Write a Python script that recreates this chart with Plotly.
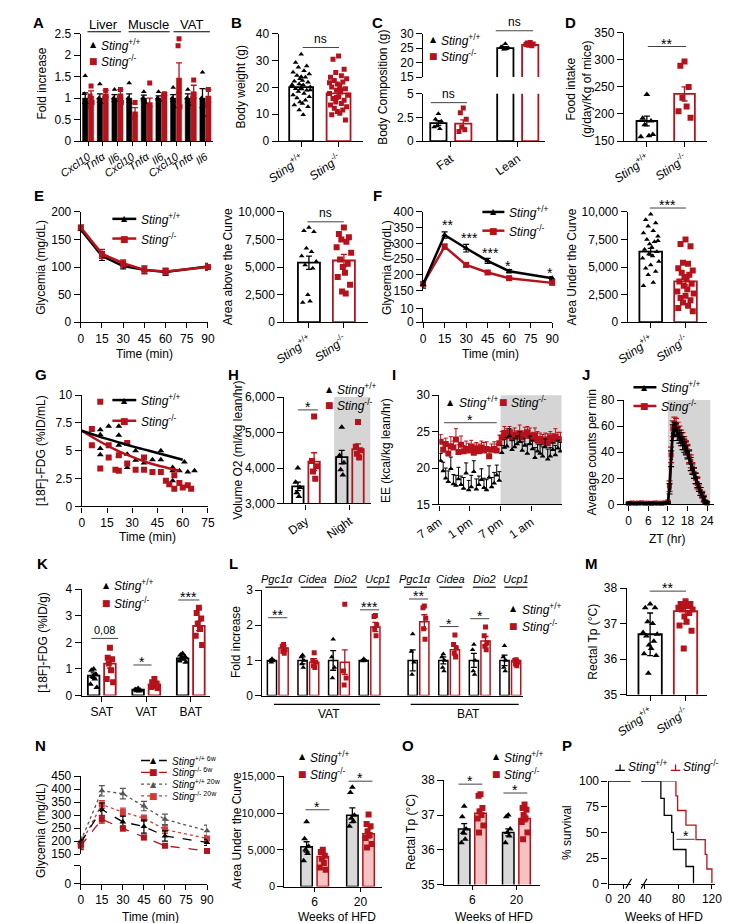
import plotly.graph_objects as go

# ======================= DATA =======================
WT = '<i>Sting</i><sup>+/+</sup>'
KO = '<i>Sting</i><sup>-/-</sup>'

# A
A_tissues = ['Liver', 'Muscle', 'VAT']
A_genes = ['Cxcl10', 'Tnfα', 'Il6', 'Cxcl10', 'Tnfα', 'Il6', 'Cxcl10', 'Tnfα', 'Il6']
A_wt_mean = [1.0, 1.0, 1.0, 1.0, 1.0, 1.0, 1.0, 1.0, 1.0]
A_wt_err = [0.12, 0.1, 0.08, 0.1, 0.07, 0.05, 0.08, 0.1, 0.22]
A_ko_mean = [1.05, 1.1, 1.1, 0.68, 0.9, 1.1, 1.47, 1.15, 1.05]
A_ko_err = [0.12, 0.08, 0.1, 0.1, 0.1, 0.03, 0.35, 0.15, 0.15]
A_wt_pts = [[1.52, 1.1, 0.9], [1.33, 1.0, 0.9], [1.2, 1.0, 0.95], [1.35, 1.0, 0.9], [1.15, 1.0, 0.9],
            [1.15, 1.0, 0.95], [1.25, 1.0, 0.8], [1.2, 1.0, 0.85], [1.6, 1.0, 0.6]]
A_ko_pts = [[1.28, 1.05, 0.9, 0.8], [1.18, 1.0], [1.2, 1.0, 0.9], [0.9, 0.55], [1.35, 0.8], [1.1, 1.05],
            [2.38, 2.22, 0.8], [1.42, 1.0], [1.2, 0.85]]

# B
B_mean = [20.1, 17.8]
B_err = [0.9, 1.0]
B_wt_pts = [32.3, 29.3, 28.0, 27.5, 26.2, 25.6, 25.0, 24.4, 23.8, 23.2, 22.6, 22.3, 21.9, 21.3, 20.9, 20.5,
            20.1, 19.8, 19.5, 18.9, 18.5, 17.7, 17.2, 16.5, 16.0, 15.2, 14.6, 14.0, 13.4, 12.8, 11.6, 9.8,
            21.0, 19.0, 24.0]
B_ko_pts = [31.7, 30.5, 26.8, 25.5, 24.3, 23.8, 23.2, 22.6, 22.0, 21.3, 20.7, 20.1, 19.5, 18.9, 18.3, 17.7,
            17.1, 16.5, 15.9, 15.2, 14.6, 14.0, 13.4, 12.8, 12.2, 11.6, 11.0, 10.4, 9.8, 7.8, 16.2, 19.1, 21.7]

# C
C_groups = ['Fat', 'Lean']
C_wt_mean = [1.9, 25.0]
C_wt_err = [0.25, 0.5]
C_ko_mean = [1.85, 26.1]
C_ko_err = [0.4, 0.35]
C_wt_pts = [[2.9, 2.3, 2.1, 1.6, 1.3, 1.5], [26.5, 25.5, 25.1, 24.6, 24.9, 25.4]]
C_ko_pts = [[3.5, 3.0, 2.3, 1.5, 1.2, 1.0], [27.0, 26.8, 26.4, 26.0, 25.8, 26.3]]

# D
D_mean = [187, 237]
D_err = [9, 13]
D_wt_pts = [236, 192, 187, 180, 160, 158, 162]
D_ko_pts = [297, 289, 250, 230, 214, 205, 193]

# E
E_time = [0, 15, 30, 45, 60, 90]
E_wt = [168, 120, 102, 95, 91, 101]
E_wt_err = [4, 8, 5, 7, 6, 6]
E_ko = [172, 124, 107, 95, 92, 100]
E_ko_err = [4, 8, 6, 7, 6, 6]
E_aac_mean = [5400, 5600]
E_aac_err = [600, 550]
E_aac_wt_pts = [8600, 8300, 8200, 6700, 6400, 6000, 5500, 5200, 4900, 2500, 1900, 1800]
E_aac_ko_pts = [8600, 8000, 7700, 7500, 7300, 6800, 6300, 5700, 5300, 5000, 4500, 4100, 3400, 2800, 2600]

# F
F_time = [0, 15, 30, 45, 60, 90]
F_wt = [170, 327, 285, 245, 212, 190]
F_wt_err = [12, 10, 12, 8, 5, 5]
F_ko = [172, 290, 232, 208, 190, 175]
F_ko_err = [10, 8, 6, 5, 5, 5]
F_stars = ['**', '***', '***', '*', '*']
F_auc_mean = [6400, 3700]
F_auc_err = [300, 320]
F_auc_wt_pts = [9800, 9300, 9000, 8700, 8300, 8100, 7800, 7500, 7300, 7100, 6800, 6600, 6400, 6200, 6000,
                5800, 5500, 5200, 4900, 4600, 4300, 3600, 3300, 7400]
F_auc_ko_pts = [7500, 7100, 6900, 5400, 5300, 4900, 4700, 4500, 4300, 4100, 3900, 3700, 3500, 3300, 3000,
                2800, 2600, 2400, 2200, 2000, 1800, 1500, 1300, 1000]

# G
G_wt_t = [11, 11, 11, 11, 16, 22, 22, 22, 22, 27, 27, 32, 32, 37, 42, 47, 47, 54, 54, 54, 58, 61, 63, 67]
G_wt_v = [6.9, 6.45, 5.2, 4.65, 7.2, 7.2, 6.4, 5.5, 4.6, 3.5, 4.7, 5.0, 4.15, 3.9, 4.2, 5.0, 4.2, 3.5, 3.2,
          2.3, 3.2, 4.0, 3.1, 3.2]
G_ko_t = [6, 6, 11, 11, 16, 16, 20, 22, 22, 27, 27, 32, 37, 37, 42, 47, 50, 52, 55, 55, 58, 60, 63, 65]
G_ko_v = [6.95, 5.5, 9.4, 3.4, 5.5, 4.4, 3.3, 4.6, 3.2, 5.7, 3.85, 3.3, 4.4, 3.3, 3.1, 3.1, 2.3, 2.0, 2.8,
          1.6, 2.1, 1.7, 1.9, 1.6]
G_fit_wt_t = [0, 10, 20, 30, 40, 50, 60]
G_fit_wt = [6.8, 6.3, 5.85, 5.4, 5.0, 4.6, 4.2]
G_fit_ko_t = [0, 10, 20, 30, 40, 50, 58]
G_fit_ko = [6.8, 5.9, 5.1, 4.45, 3.9, 3.5, 3.2]

# H
H_periods = ['Day', 'Night']
H_wt_mean = [3480, 4310]
H_wt_err = [120, 190]
H_ko_mean = [4180, 4530]
H_ko_err = [250, 150]
H_wt_pts = [[4000, 3600, 3450, 3300, 3200], [5150, 4350, 4150, 3950, 3800]]
H_ko_pts = [[5450, 4200, 4050, 3900, 3700], [5300, 4600, 4500, 4400, 4300]]

# I
I_hours = [0.25, 0.75, 1.25, 1.75, 2.25, 2.75, 3.25, 3.75, 4.25, 4.75, 5.25, 5.75, 6.25, 6.75, 7.25, 7.75,
           8.25, 8.75, 9.25, 9.75, 10.25, 10.75, 11.25, 11.75, 12.25, 12.75, 13.25, 13.75, 14.25, 14.75,
           15.25, 15.75, 16.25, 16.75, 17.25, 17.75, 18.25, 18.75, 19.25, 19.75, 20.25, 20.75, 21.25, 21.75,
           22.25, 22.75, 23.25, 23.75]
I_wt = [21.0, 19.6, 18.6, 18.1, 19.9, 17.8, 17.6, 18.5, 17.7, 17.2, 19.3, 17.0, 17.4, 19.5, 17.1, 17.7, 18.4,
        17.3, 17.0, 18.7, 17.4, 17.9, 19.0, 18.3,
        22.1, 22.8, 23.0, 24.4, 22.5, 22.9, 23.3, 23.6, 22.4, 23.1, 22.0, 23.3, 22.6, 21.4, 22.3, 22.0, 21.6,
        22.9, 21.2, 21.6, 22.5, 21.8, 22.7, 22.3]
I_wt_err = [1.0, 1.2, 1.4, 1.5, 1.6, 1.3, 1.4, 1.6, 1.2, 1.5, 1.4, 1.3, 1.6, 1.5, 1.4, 1.2, 1.5, 1.3, 1.4, 1.6,
            1.3, 1.5, 1.4, 1.2,
            1.0, 1.1, 1.2, 1.0, 1.3, 1.2, 1.1, 1.4, 1.2, 1.0, 1.3, 1.1, 1.2, 1.4, 1.0, 1.2, 1.3, 1.1, 1.4, 1.2,
            1.0, 1.3, 1.1, 1.2]
I_ko = [23.6, 22.5, 23.3, 22.0, 23.0, 22.8, 23.9, 22.2, 23.2, 22.3, 22.6, 22.4, 22.9, 22.1, 22.7, 22.3, 22.8,
        22.4, 22.6, 21.6, 22.5, 22.6, 22.4, 23.4,
        24.2, 24.8, 24.4, 24.9, 24.1, 24.6, 24.3, 24.7, 24.2, 24.6, 24.9, 24.4, 24.0, 24.5, 23.8, 24.0, 23.5,
        23.9, 23.4, 24.2, 23.7, 24.3, 24.0, 23.9]
I_ko_err = [1.0, 1.1, 0.8, 1.2, 1.3, 0.9, 1.5, 1.0, 1.2, 0.8, 1.1, 1.0, 0.9, 1.2, 0.8, 1.0, 0.9, 1.1, 1.0, 1.2,
            0.8, 1.0, 0.9, 1.1,
            0.8, 0.9, 1.0, 0.8, 1.1, 0.9, 0.8, 1.2, 0.9, 1.0, 0.8, 1.1, 0.9, 1.0, 1.2, 0.8, 1.1, 0.9, 1.3, 0.8,
            1.0, 1.1, 0.9, 1.0]

# J
J_zt = [0, 1, 2, 3, 4, 5, 6, 7, 8, 9, 10, 11, 12, 12.5, 13, 13.5, 14, 14.5, 15, 15.5, 16, 16.5, 17, 17.5, 18,
        18.5, 19, 19.5, 20, 20.5, 21, 21.5, 22, 22.5, 23, 23.5, 24]
J_wt = [1.2, 0.9, 1.0, 1.1, 0.8, 1.0, 0.9, 1.2, 1.0, 0.8, 1.1, 1.0, 1.5,
        12, 35, 55, 58, 57, 54, 52, 50, 47, 45, 43, 40, 36, 31, 27, 24, 20, 17, 13, 10, 7, 4, 2, 1]
J_ko = [0.8, 1.1, 0.9, 1.0, 1.2, 0.9, 1.0, 0.8, 1.1, 1.0, 0.9, 1.2, 2.0,
        14, 38, 58, 62, 61, 58, 55, 52, 50, 47, 44, 41, 37, 33, 28, 24, 20, 16, 13, 10, 8, 5, 2, 1]
J_err = [0.4, 0.4, 0.4, 0.4, 0.4, 0.4, 0.4, 0.4, 0.4, 0.4, 0.4, 0.4, 0.6,
         4, 6, 6, 5, 5, 5, 5, 5, 5, 5, 5, 5, 5, 5, 4, 4, 4, 4, 3, 3, 2, 2, 1, 1]

# K
K_groups = ['SAT', 'VAT', 'BAT']
K_wt_mean = [0.75, 0.22, 1.4]
K_wt_err = [0.1, 0.02, 0.05]
K_ko_mean = [1.2, 0.42, 2.62]
K_ko_err = [0.17, 0.04, 0.18]
K_wt_pts = [[1.0, 0.95, 0.8, 0.72, 0.62, 0.42, 0.3], [0.26, 0.23, 0.2, 0.18, 0.17, 0.22],
            [1.58, 1.52, 1.47, 1.42, 1.36, 1.3, 1.25]]
K_ko_pts = [[1.8, 1.42, 1.36, 1.2, 0.95, 0.62, 0.5], [0.62, 0.5, 0.45, 0.4, 0.36, 0.32, 0.28],
            [3.3, 3.1, 2.9, 2.7, 2.5, 2.25, 1.9]]

# L
L_tissues = ['VAT', 'BAT']
L_genes = ['Pgc1α', 'Cidea', 'Dio2', 'Ucp1', 'Pgc1α', 'Cidea', 'Dio2', 'Ucp1']
L_wt_mean = [1.0, 1.0, 1.0, 1.0, 1.0, 1.0, 1.0, 1.0]
L_wt_err = [0.03, 0.1, 0.28, 0.02, 0.3, 0.1, 0.2, 0.15]
L_ko_mean = [1.35, 0.95, 0.95, 1.95, 2.1, 1.3, 1.55, 1.0]
L_ko_err = [0.07, 0.1, 0.35, 0.13, 0.2, 0.12, 0.13, 0.03]
L_wt_pts = [[1.05, 1.0, 0.98, 0.95], [1.15, 1.1, 1.0, 0.9, 0.8], [1.6, 1.1, 0.8, 0.5], [1.05, 1.0, 1.0, 0.98],
            [1.75, 1.25, 0.95, 0.6], [1.18, 1.1, 1.0, 0.8, 0.7], [1.45, 1.3, 1.0, 0.7, 0.6],
            [1.42, 1.1, 1.0, 0.8, 0.7]]
L_ko_pts = [[1.45, 1.4, 1.3, 1.25, 1.2], [1.22, 1.0, 0.95, 0.85, 0.8], [2.6, 0.7, 0.5, 0.3],
            [2.28, 2.25, 2.0, 1.9, 1.7], [2.55, 2.5, 2.2, 1.9, 1.6], [1.72, 1.45, 1.35, 1.2, 1.1],
            [1.95, 1.7, 1.5, 1.4, 1.3], [1.02, 1.0, 0.95, 0.9, 0.85]]
L_stars = ['**', '', '', '***', '**', '*', '*', '']

# M
M_mean = [36.7, 37.35]
M_err = [0.6, 0.35]
M_wt_pts = [37.55, 37.45, 37.45, 37.05, 37.0, 36.75, 36.7, 36.65, 36.5, 36.4, 36.3, 36.15, 36.1, 35.6]
M_ko_pts = [37.6, 37.55, 37.55, 37.5, 37.5, 37.45, 37.4, 37.4, 37.3, 37.2, 37.05, 36.95, 36.8, 36.3]

# N
N_time = [0, 15, 30, 45, 60, 90]
N_wt6 = [195, 322, 274, 256, 220, 195]
N_wt6_err = [12, 25, 22, 25, 20, 12]
N_ko6 = [182, 284, 249, 214, 182, 162]
N_ko6_err = [15, 15, 10, 8, 6, 6]
N_wt20 = [200, 394, 383, 335, 284, 240]
N_wt20_err = [15, 20, 20, 18, 20, 22]
N_ko20 = [190, 341, 312, 288, 245, 210]
N_ko20_err = [12, 15, 15, 12, 15, 12]
N_weeks = ['6', '20']
N_auc_wt_mean = [5400, 9700]
N_auc_wt_err = [700, 1000]
N_auc_ko_mean = [4100, 7200]
N_auc_ko_err = [500, 600]
N_auc_wt_pts = [[8800, 6500, 5500, 5000, 4500, 3500], [13500, 12800, 9700, 9300, 8900, 8200]]
N_auc_ko_pts = [[5000, 4700, 4200, 3800, 3200, 2600, 2300], [9800, 8500, 8200, 7500, 7000, 6600, 5800, 5300]]

# O
O_wt_mean = [36.6, 36.5]
O_wt_err = [0.15, 0.1]
O_ko_mean = [37.05, 36.9]
O_ko_err = [0.12, 0.1]
O_wt_pts = [[37.25, 36.95, 36.6, 36.5, 36.3, 36.2], [37.0, 36.95, 36.6, 36.5, 36.4, 36.2]]
O_ko_pts = [[37.6, 37.55, 37.2, 37.1, 37.0, 36.9, 36.7, 36.5], [37.3, 37.2, 37.15, 37.0, 36.9, 36.8, 36.5, 36.3]]

# P
P_wt_weeks = [0, 59, 63, 72, 74, 89, 98]
P_wt_surv = [100, 83.3, 66.7, 50, 33.3, 16.7, 0]
P_ko_weeks = [0, 77, 79, 89, 101, 112, 114, 120]
P_ko_surv = [100, 85.7, 71.4, 57.1, 42.9, 28.6, 14.3, 0]

# ======================= STYLE / HELPERS =======================
W, H = 730, 923
RED = '#b5121b'
SHADE = '#d5d5d5'
GREYFILL = '#d9d9d9'
PINKFILL = '#f6c3c3'
SIGC = '#444444'
FONT = 'Arial, Liberation Sans, sans-serif'
FS = 12

fig = go.Figure()
ann, shp, AX = [], [], {}
cnt = [0]


def ids(n):
    if n == 1:
        return 'x', 'y', 'xaxis', 'yaxis'
    return f'x{n}', f'y{n}', f'xaxis{n}', f'yaxis{n}'


def base_axis(**kw):
    d = dict(showline=True, linecolor='black', linewidth=1.3, ticks='outside', ticklen=6, tickwidth=1.3,
             tickcolor='black', showgrid=False, zeroline=False,
             tickfont=dict(size=FS, color='black', family=FONT), fixedrange=True)
    d.update(kw)
    return d


def placeholder(xn, yn):
    # empty trace so that every axis pair is a real subplot
    fig.add_trace(go.Scatter(x=[None], y=[None], mode='markers', xaxis=xn, yaxis=yn,
                             showlegend=False, hoverinfo='skip'))


def add_axes(xpx, ypx, xr, yr, xkw=None, ykw=None):
    cnt[0] += 1
    xn, yn, xk, yk = ids(cnt[0])
    xd = dict(ticklen=5)
    xd.update(xkw or {})
    AX[xk] = base_axis(domain=[xpx[0] / W, xpx[1] / W], range=xr, anchor=yn, **xd)
    AX[yk] = base_axis(domain=[1 - ypx[1] / H, 1 - ypx[0] / H], range=yr, anchor=xn, **(ykw or {}))
    placeholder(xn, yn)
    return xn, yn


def add_y(ypx, yr, xn, ykw=None):
    cnt[0] += 1
    _, yn, _, yk = ids(cnt[0])
    AX[yk] = base_axis(domain=[1 - ypx[1] / H, 1 - ypx[0] / H], range=yr, anchor=xn, **(ykw or {}))
    placeholder(xn, yn)
    return yn


def add_x(xpx, xr, yn, xkw=None):
    cnt[0] += 1
    xn, _, xk, _ = ids(cnt[0])
    xd = dict(ticklen=5)
    xd.update(xkw or {})
    AX[xk] = base_axis(domain=[xpx[0] / W, xpx[1] / W], range=xr, anchor=yn, **xd)
    placeholder(xn, yn)
    return xn


def T(x, y, s, size=FS, xa='center', ya='middle', angle=0, color='black', family=FONT):
    ann.append(dict(x=x / W, y=1 - y / H, xref='paper', yref='paper', text=s, showarrow=False,
                    xanchor=xa, yanchor=ya, textangle=angle,
                    font=dict(size=size, color=color, family=family)))


def L(x0, y0, x1, y1, color='black', width=1.0, dash='solid'):
    shp.append(dict(type='line', xref='paper', yref='paper', x0=x0 / W, y0=1 - y0 / H, x1=x1 / W,
                    y1=1 - y1 / H, line=dict(color=color, width=width, dash=dash)))


def shade(xa, ya, x0, x1):
    shp.append(dict(type='rect', xref=xa, yref=f'{ya} domain', x0=x0, x1=x1, y0=0, y1=1,
                    fillcolor=SHADE, line=dict(width=0), layer='below'))


def sig(x0, x1, y, label, size=None):
    L(x0, y, x1, y, color=SIGC, width=1)
    if label.startswith('*'):
        T((x0 + x1) / 2, y - 3, label, size=size or 14)
    else:
        T((x0 + x1) / 2, y - 9, label, size=size or 12)


def glyph(x, y, kind, color):
    if kind == 'tri':
        T(x, y, '▲', size=8, color=color, family='DejaVu Sans')
    else:
        T(x, y, '■', size=9, color=color, family='DejaVu Sans')


def leg_mark(x, y, kind, color, label, size=FS):
    glyph(x, y, kind, color)
    T(x + 6, y, label, size=size, xa='left')


def leg_line(x0, x1, y, color, kind, label, dash='solid', width=2.5, size=FS):
    L(x0, y, x1, y, color=color, width=width, dash=dash)
    glyph((x0 + x1) / 2, y, kind, color)
    T(x1 + 3, y, label, size=size, xa='left')


def ytitle(x, y, s, size=FS):
    T(x, y, s, size=size, angle=-90)


def plabel(x, y, s):
    T(x, y, f'<b>{s}</b>', size=15)


def bars(xa, ya, xs, means, errs, edge, fill, width, lw=1.8):
    fig.add_trace(go.Bar(x=xs, y=means, width=width, xaxis=xa, yaxis=ya,
                         marker=dict(color=fill, line=dict(color=edge, width=lw)),
                         error_y=dict(type='data', array=errs, color=edge, thickness=1.3, width=3),
                         showlegend=False, hoverinfo='skip'))


JIT = [0.0, -0.55, 0.55, -0.28, 0.28, -0.8, 0.8, -0.42, 0.42, -0.12, 0.12, -0.68, 0.68, -0.2, 0.2, -0.9, 0.9]


def dots(xa, ya, xc, vals, half, kind, color, size=5):
    xs = [xc + half * JIT[i % len(JIT)] for i in range(len(vals))]
    fig.add_trace(go.Scatter(x=xs, y=vals, mode='markers', xaxis=xa, yaxis=ya,
                             marker=dict(symbol='triangle-up' if kind == 'tri' else 'square', size=size,
                                         color=color, line=dict(width=0)),
                             showlegend=False, hoverinfo='skip'))


def curve(xa, ya, xs, ys, errs, color, kind, width=2.5, dash='solid', msize=6, shape='linear', markers=True):
    mode = 'lines+markers' if markers else 'lines'
    kw = {}
    if errs is not None:
        kw['error_y'] = dict(type='data', array=errs, color=color, thickness=1.2, width=3)
    fig.add_trace(go.Scatter(x=xs, y=ys, mode=mode, xaxis=xa, yaxis=ya, cliponaxis=False,
                             line=dict(color=color, width=width, dash=dash, shape=shape),
                             marker=dict(symbol='triangle-up' if kind == 'tri' else 'square', size=msize,
                                         color=color),
                             showlegend=False, hoverinfo='skip', **kw))


STING_TICKS = dict(tickvals=[0, 1], ticktext=[WT, KO], tickangle=-35)
TIME_TICKS = dict(tickvals=[0, 15, 30, 45, 60, 75, 90])

# ======================= PANEL A =======================
xa, ya = add_axes((50, 188), (19, 128), [-0.5, 8.5], [0, 2.5],
                  xkw=dict(tickvals=list(range(9)), ticktext=[f'<i>{g}</i>' for g in A_genes], tickangle=-35,
                           ticklen=4, tickfont=dict(size=11, family=FONT, color='black')),
                  ykw=dict(tickvals=[0, 0.5, 1, 1.5, 2, 2.5], ticktext=['0', '0.5', '1', '1.5', '2', '2.5']))
a_c = list(range(9))
bars(xa, ya, [c - 0.2 for c in a_c], A_wt_mean, A_wt_err, 'black', 'black', 0.36, lw=0.5)
bars(xa, ya, [c + 0.2 for c in a_c], A_ko_mean, A_ko_err, RED, RED, 0.36, lw=0.5)
for i, c in enumerate(a_c):
    dots(xa, ya, c - 0.2, A_wt_pts[i], 0.12, 'tri', 'black', 5)
    dots(xa, ya, c + 0.2, A_ko_pts[i], 0.12, 'sq', RED, 5)
for k, (cx, l0, l1) in enumerate([(74, 57, 92), (121, 100, 143), (166, 147, 185)]):
    T(cx, 10, A_tissues[k], size=13)
    L(l0, 17, l1, 17, width=1.2)
leg_mark(63, 30, 'tri', 'black', WT)
leg_mark(63, 47, 'sq', RED, KO)
ytitle(9, 70, 'Fold increase')
plabel(6, 8, 'A')

# ======================= PANEL B =======================
xb, yb = add_axes((257, 345), (19, 128), [-0.60, 1.65], [0, 40], xkw=STING_TICKS,
                  ykw=dict(tickvals=[0, 10, 20, 30, 40]))
bars(xb, yb, [0], B_mean[:1], B_err[:1], 'black', 'white', 0.64)
bars(xb, yb, [1], B_mean[1:], B_err[1:], RED, 'white', 0.64)
dots(xb, yb, 0, B_wt_pts, 0.27, 'tri', 'black', 5)
dots(xb, yb, 1, B_ko_pts, 0.27, 'sq', RED, 5)
sig(282, 320, 33, 'ns')
ytitle(217, 73, 'Body weight (g)')
plabel(213, 8, 'B')

# ======================= PANEL C =======================
xc, yc = add_axes((408, 535), (80, 128), [-0.414, 1.4], [0, 5],
                  xkw=dict(tickvals=[0, 1], ticktext=C_groups, tickangle=-35),
                  ykw=dict(tickvals=[0, 2.5, 5], ticktext=['0', '2.5', '5']))
yc2 = add_y((19, 63), [15, 30], xc, ykw=dict(tickvals=[15, 20, 25, 30]))
for yy in (yc, yc2):
    bars(xc, yy, [-0.186, 0.814], C_wt_mean, C_wt_err, 'black', 'white', 0.243)
    bars(xc, yy, [0.186, 1.186], C_ko_mean, C_ko_err, RED, 'white', 0.243)
    for g in range(2):
        dots(xc, yy, g - 0.186, C_wt_pts[g], 0.08, 'tri', 'black', 5)
        dots(xc, yy, g + 0.186, C_ko_pts[g], 0.08, 'sq', RED, 5)
leg_mark(419, 25, 'tri', 'black', WT)
leg_mark(419, 42, 'sq', RED, KO)
sig(416, 454, 89, 'ns')
sig(484, 523, 16, 'ns')
ytitle(366, 73, 'Body Composition (g)')
plabel(360, 8, 'C')

# ======================= PANEL D =======================
xd, yd = add_axes((618, 705), (18, 128), [-0.61, 1.6], [150, 350], xkw=STING_TICKS,
                  ykw=dict(tickvals=[150, 200, 250, 300, 350]))
bars(xd, yd, [0], D_mean[:1], D_err[:1], 'black', 'white', 0.55)
bars(xd, yd, [1], D_mean[1:], D_err[1:], RED, 'white', 0.55)
dots(xd, yd, 0, D_wt_pts, 0.2, 'tri', 'black', 6)
dots(xd, yd, 1, D_ko_pts, 0.2, 'sq', RED, 6)
sig(643, 683, 32, '**')
ytitle(571, 75, 'Food intake<br>(g/day/Kg of mice)')
plabel(562, 8, 'D')

# ======================= PANEL E =======================
xe, ye = add_axes((50, 183), (200, 312), [0, 90], [0, 200], xkw=TIME_TICKS,
                  ykw=dict(tickvals=[0, 50, 100, 150, 200]))
curve(xe, ye, E_time, E_wt, E_wt_err, 'black', 'tri')
curve(xe, ye, E_time, E_ko, E_ko_err, RED, 'sq')
leg_line(83, 108, 207, 'black', 'tri', WT)
leg_line(83, 108, 227, RED, 'sq', KO)
ytitle(9, 256, 'Glycemia (mg/dL)')
T(117, 344, 'Time (min)')
plabel(6, 183, 'E')

xe2, ye2 = add_axes((263, 350), (200, 312), [-0.70, 1.68], [0, 10000], xkw=STING_TICKS,
                    ykw=dict(tickvals=[0, 2500, 5000, 7500, 10000],
                             ticktext=['0', '2,500', '5,000', '7,500', '10,000']))
bars(xe2, ye2, [0], E_aac_mean[:1], E_aac_err[:1], 'black', 'white', 0.63)
bars(xe2, ye2, [1], E_aac_mean[1:], E_aac_err[1:], RED, 'white', 0.63)
dots(xe2, ye2, 0, E_aac_wt_pts, 0.26, 'tri', 'black', 5)
dots(xe2, ye2, 1, E_aac_ko_pts, 0.26, 'sq', RED, 6)
sig(287, 325, 210, 'ns')
ytitle(204, 256, 'Area above the Curve')

# ======================= PANEL F =======================
xf, yf = add_axes((408, 543), (298, 312), [0, 90], [0, 10], xkw=TIME_TICKS, ykw=dict(tickvals=[0, 10]))
yf2 = add_y((200, 280), [150, 400], xf, ykw=dict(tickvals=[150, 200, 250, 300, 350, 400]))
curve(xf, yf2, F_time, F_ko, F_ko_err, RED, 'sq')
curve(xf, yf2, F_time, F_wt, F_wt_err, 'black', 'tri')
for (sx, sy), s in zip([(433, 213), (456, 226), (478, 242), (497, 255), (541, 262)], F_stars):
    T(sx, sy, s, size=14)
leg_line(470, 493, 200, 'black', 'tri', WT)
leg_line(470, 493, 219, RED, 'sq', KO)
ytitle(370, 256, 'Glycemia (mg/dL)')
T(478, 344, 'Time (min)')
plabel(360, 183, 'F')

xf3, yf3 = add_axes((622, 705), (200, 312), [-0.66, 1.62], [0, 10000], xkw=STING_TICKS,
                    ykw=dict(tickvals=[0, 2500, 5000, 7500, 10000],
                             ticktext=['0', '2,500', '5,000', '7,500', '10,000']))
bars(xf3, yf3, [0], F_auc_mean[:1], F_auc_err[:1], 'black', 'white', 0.65)
bars(xf3, yf3, [1], F_auc_mean[1:], F_auc_err[1:], RED, 'white', 0.65)
dots(xf3, yf3, 0, F_auc_wt_pts, 0.26, 'tri', 'black', 5)
dots(xf3, yf3, 1, F_auc_ko_pts, 0.26, 'sq', RED, 6)
sig(645, 683, 196, '***')
ytitle(564, 256, 'Area Under the Curve')

# ======================= PANEL G =======================
xg, yg = add_axes((51, 183), (386, 499), [0, 75], [0, 10], xkw=dict(tickvals=[0, 15, 30, 45, 60, 75]),
                  ykw=dict(tickvals=[0, 2.5, 5, 7.5, 10], ticktext=['0', '2.5', '5', '7.5', '10']))
fig.add_trace(go.Scatter(x=G_wt_t, y=G_wt_v, mode='markers', xaxis=xg, yaxis=yg, showlegend=False,
                         marker=dict(symbol='triangle-up', size=6, color='black')))
fig.add_trace(go.Scatter(x=G_ko_t, y=G_ko_v, mode='markers', xaxis=xg, yaxis=yg, showlegend=False,
                         marker=dict(symbol='square', size=6, color=RED)))
curve(xg, yg, G_fit_ko_t, G_fit_ko, None, RED, 'sq', shape='spline', markers=False)
curve(xg, yg, G_fit_wt_t, G_fit_wt, None, 'black', 'tri', shape='spline', markers=False)
leg_line(83, 108, 391, 'black', 'tri', WT)
leg_line(83, 108, 412, RED, 'sq', KO)
ytitle(9, 442, '[18F]-FDG (%ID/mL)')
T(120, 530, 'Time (min)')
plabel(8, 365, 'G')

# ======================= PANEL H =======================
xh, yh = add_axes((263, 353), (388, 496), [-0.49, 1.47], [3000, 6000],
                  xkw=dict(tickvals=[0, 1], ticktext=H_periods, tickangle=-35),
                  ykw=dict(tickvals=[3000, 4000, 5000, 6000], ticktext=['3,000', '4,000', '5,000', '6,000']))
shade(xh, yh, 0.64, 1.47)
bars(xh, yh, [-0.185, 0.815], H_wt_mean, H_wt_err, 'black', 'rgba(0,0,0,0)', 0.26)
bars(xh, yh, [0.185, 1.185], H_ko_mean, H_ko_err, RED, 'rgba(0,0,0,0)', 0.26)
for g in range(2):
    dots(xh, yh, g - 0.185, H_wt_pts[g], 0.09, 'tri', 'black', 6)
    dots(xh, yh, g + 0.185, H_ko_pts[g], 0.09, 'sq', RED, 6)
sig(277, 298, 401, '*')
leg_mark(310, 380, 'tri', 'black', WT)
leg_mark(310, 396, 'sq', RED, KO)
ytitle(215, 442, 'Volume O2 (ml/kg lean/hr)')
plabel(210, 365, 'H')

# ======================= PANEL I =======================
xi, yi = add_axes((425, 553), (386, 497), [0, 24], [15, 30],
                  xkw=dict(tickvals=[0, 6, 12, 18], ticktext=['7 am', '1 pm', '7 pm', '1 am'], tickangle=-35),
                  ykw=dict(tickvals=[15, 20, 25, 30]))
shade(xi, yi, 12, 24)
zeros = [0] * len(I_hours)
fig.add_trace(go.Scatter(x=I_hours, y=I_ko, mode='markers', xaxis=xi, yaxis=yi, showlegend=False,
                         marker=dict(symbol='square', size=6, color=RED),
                         error_y=dict(type='data', symmetric=False, array=I_ko_err, arrayminus=zeros,
                                      color=RED, thickness=1, width=2)))
fig.add_trace(go.Scatter(x=I_hours, y=I_wt, mode='markers', xaxis=xi, yaxis=yi, showlegend=False,
                         marker=dict(symbol='triangle-up', size=5, color='black'),
                         error_y=dict(type='data', symmetric=False, array=I_wt_err, arrayminus=zeros,
                                      color='black', thickness=1, width=2)))
leg_mark(437, 393, 'tri', 'black', WT)
leg_mark(492, 393, 'sq', RED, KO)
sig(430, 485, 414, '*')
ytitle(370, 442, 'EE (kcal/kg lean/hr)')
plabel(378, 365, 'I')

# ======================= PANEL J =======================
xj, yj = add_axes((618, 712), (391, 497), [-1.46, 26.05], [0, 80], xkw=dict(tickvals=[0, 6, 12, 18, 24]),
                  ykw=dict(tickvals=[0, 20, 40, 60, 80]))
shade(xj, yj, 12, 25)
curve(xj, yj, J_zt, J_ko, J_err, RED, 'sq', width=2.5, msize=5)
curve(xj, yj, J_zt, J_wt, J_err, 'black', 'tri', width=2.5, msize=4)
leg_line(628, 652, 378, 'black', 'tri', WT)
leg_line(628, 652, 397, RED, 'sq', KO)
ytitle(585, 444, 'Average counts per min')
T(663, 532, 'ZT (hr)')
plabel(578, 365, 'J')

# ======================= PANEL K =======================
xk, yk = add_axes((51, 185), (583, 691), [-0.45, 2.43], [0, 4],
                  xkw=dict(tickvals=[0, 1, 2], ticktext=K_groups), ykw=dict(tickvals=[0, 1, 2, 3, 4]))
bars(xk, yk, [g - 0.183 for g in range(3)], K_wt_mean, K_wt_err, 'black', 'white', 0.26)
bars(xk, yk, [g + 0.183 for g in range(3)], K_ko_mean, K_ko_err, RED, 'white', 0.26)
for g in range(3):
    dots(xk, yk, g - 0.183, K_wt_pts[g], 0.09, 'tri', 'black', 6)
    dots(xk, yk, g + 0.183, K_ko_pts[g], 0.09, 'sq', RED, 6)
sig(61, 89, 633, '0,08', size=11)
sig(105, 124, 660, '*')
sig(152, 174, 594, '***')
leg_mark(77, 579, 'tri', 'black', WT)
leg_mark(77, 597, 'sq', RED, KO)
ytitle(11, 637, '[18F]-FDG (%ID/g)')
plabel(10, 557, 'K')

# ======================= PANEL L =======================
xl, yl = add_axes((240, 512), (584, 691), [-0.5, 8.0], [0, 3],
                  xkw=dict(ticks='', showticklabels=False), ykw=dict(tickvals=[0, 1, 2, 3]))
l_pos = [0, 1, 2, 3, 4.6, 5.6, 6.6, 7.6]
l_head_x = [255, 292, 327, 361, 400, 437, 472, 505]
l_star_y = [612, 0, 0, 604, 593, 621, 613, 0]
bars(xl, yl, [p - 0.19 for p in l_pos], L_wt_mean, L_wt_err, 'black', 'white', 0.3, lw=1.5)
bars(xl, yl, [p + 0.19 for p in l_pos], L_ko_mean, L_ko_err, RED, 'white', 0.3, lw=1.5)
for i, p in enumerate(l_pos):
    dots(xl, yl, p - 0.19, L_wt_pts[i], 0.08, 'tri', 'black', 5)
    dots(xl, yl, p + 0.19, L_ko_pts[i], 0.08, 'sq', RED, 5)
    hx = l_head_x[i]
    T(hx, 573, f'<i>{L_genes[i]}</i>', size=11)
    L(hx - 12, 581, hx + 12, 581, width=1.2)
    if L_stars[i]:
        cx = 256 + 32 * p
        sig(cx - 10, cx + 10, l_star_y[i], L_stars[i])
L(252, 700, 363, 700, width=1.2)
T(310, 710, L_tissues[0])
L(395, 700, 508, 700, width=1.2)
T(455, 710, L_tissues[1])
leg_mark(503, 603, 'tri', 'black', WT)
leg_mark(503, 620, 'sq', RED, KO)
ytitle(213, 637, 'Fold increase')
plabel(210, 557, 'L')

# ======================= PANEL M =======================
xm, ym = add_axes((621, 705), (582, 690), [-0.66, 1.61], [35, 38], xkw=STING_TICKS,
                  ykw=dict(tickvals=[35, 36, 37, 38]))
bars(xm, ym, [0], M_mean[:1], M_err[:1], 'black', 'white', 0.66)
bars(xm, ym, [1], M_mean[1:], M_err[1:], RED, 'white', 0.66)
dots(xm, ym, 0, M_wt_pts, 0.25, 'tri', 'black', 6)
dots(xm, ym, 1, M_ko_pts, 0.25, 'sq', RED, 6)
sig(645, 683, 585, '**')
ytitle(586, 636, 'Rectal Tp (°C)')
plabel(584, 557, 'M')

# ======================= PANEL N =======================
xn, yn = add_axes((50, 182), (864, 882), [0, 90], [0, 50], xkw=TIME_TICKS,
                  ykw=dict(tickvals=[0, 50], ticktext=['0', '']))
yn2 = add_y((773, 852), [150, 450], xn, ykw=dict(tickvals=[150, 200, 250, 300, 350, 400, 450]))
curve(xn, yn2, N_time, N_wt20, N_wt20_err, '#555555', 'tri', width=1.3, dash='dot', msize=6)
curve(xn, yn2, N_time, N_ko20, N_ko20_err, '#d23a3a', 'sq', width=1.3, dash='dot', msize=6)
curve(xn, yn2, N_time, N_wt6, N_wt6_err, 'black', 'tri', width=1.3, dash='dash', msize=6)
curve(xn, yn2, N_time, N_ko6, N_ko6_err, RED, 'sq', width=1.3, dash='dash', msize=6)
leg_line(113, 140, 757, 'black', 'tri', '<i>Sting</i><sup>+/+ 6w</sup>', dash='dash', width=1.3, size=10)
leg_line(113, 140, 769, RED, 'sq', '<i>Sting</i><sup>-/- 6w</sup>', dash='dash', width=1.3, size=10)
leg_line(113, 140, 781, '#555555', 'tri', '<i>Sting</i><sup>+/+ 20w</sup>', dash='dot', width=1.3, size=10)
leg_line(113, 140, 793, '#d23a3a', 'sq', '<i>Sting</i><sup>-/- 20w</sup>', dash='dot', width=1.3, size=10)
ytitle(9, 828, 'Glycemia (mg/dL)')
T(123, 916, 'Time (min)')
plabel(8, 742, 'N')

xn3, yn3 = add_axes((263, 365), (773, 885), [-0.66, 1.47], [0, 15000],
                    xkw=dict(tickvals=[0, 1], ticktext=N_weeks, ticklen=4),
                    ykw=dict(tickvals=[0, 5000, 10000, 15000], ticktext=['0', '5,000', '10,000', '15,000'],
                             tickfont=dict(size=11, family=FONT, color='black')))
bars(xn3, yn3, [-0.177, 0.823], N_auc_wt_mean, N_auc_wt_err, 'black', GREYFILL, 0.25, lw=1.5)
bars(xn3, yn3, [0.177, 1.177], N_auc_ko_mean, N_auc_ko_err, RED, PINKFILL, 0.25, lw=1.5)
for g in range(2):
    dots(xn3, yn3, g - 0.177, N_auc_wt_pts[g], 0.08, 'tri', 'black', 6)
    dots(xn3, yn3, g + 0.177, N_auc_ko_pts[g], 0.08, 'sq', RED, 6)
sig(285, 310, 807, '*')
sig(330, 355, 778, '*')
leg_mark(282, 753, 'tri', 'black', WT)
leg_mark(282, 771, 'sq', RED, KO)
ytitle(214, 828, 'Area Under the Curve')
T(318, 916, 'Weeks of HFD')

# ======================= PANEL O =======================
xo, yo = add_axes((430, 530), (777, 883), [-0.64, 1.53], [35, 38],
                  xkw=dict(tickvals=[0, 1], ticktext=N_weeks, ticklen=4), ykw=dict(tickvals=[35, 36, 37, 38]))
bars(xo, yo, [-0.185, 0.815], O_wt_mean, O_wt_err, 'black', GREYFILL, 0.26, lw=1.5)
bars(xo, yo, [0.185, 1.185], O_ko_mean, O_ko_err, RED, PINKFILL, 0.26, lw=1.5)
for g in range(2):
    dots(xo, yo, g - 0.185, O_wt_pts[g], 0.08, 'tri', 'black', 6)
    dots(xo, yo, g + 0.185, O_ko_pts[g], 0.08, 'sq', RED, 6)
sig(445, 470, 781, '*')
sig(492, 517, 790, '*')
leg_mark(485, 753, 'tri', 'black', WT)
leg_mark(485, 771, 'sq', RED, KO)
ytitle(396, 830, 'Rectal Tp (°C)')
T(482, 916, 'Weeks of HFD')
plabel(392, 742, 'O')

# ======================= PANEL P =======================
xp, yp = add_axes((602, 625), (778, 882), [0, 28.75], [0, 100], xkw=dict(tickvals=[0, 20], ticklen=4),
                  ykw=dict(tickvals=[0, 25, 50, 75, 100]))
xp2 = add_x((636, 713), [35.4, 123.4], yp, xkw=dict(tickvals=[40, 80, 120], ticklen=4))
for xx in (xp, xp2):
    fig.add_trace(go.Scatter(x=P_ko_weeks, y=P_ko_surv, mode='lines', xaxis=xx, yaxis=yp, showlegend=False,
                             line=dict(color=RED, width=1.3, shape='hv')))
    fig.add_trace(go.Scatter(x=P_wt_weeks, y=P_wt_surv, mode='lines', xaxis=xx, yaxis=yp, showlegend=False,
                             line=dict(color='black', width=1.3, shape='hv')))
L(620, 887, 626, 877, width=1.2)
L(636, 887, 642, 877, width=1.2)
sig(673, 692, 837, '*')
for gx, col, lab in [(614, 'black', WT), (672, RED, KO)]:
    L(gx - 5, 767, gx + 5, 767, color=col, width=1.3)
    L(gx, 761, gx, 767, color=col, width=1.3)
    T(gx + 6, 763, lab, xa='left')
ytitle(559, 830, '% survival')
T(660, 916, 'Weeks of HFD')
plabel(558, 742, 'P')

# ======================= LAYOUT =======================
fig.update_layout(width=W, height=H, margin=dict(l=0, r=0, t=0, b=0), barmode='overlay', showlegend=False,
                  paper_bgcolor='white', plot_bgcolor='white', hovermode=False,
                  font=dict(family=FONT, size=FS, color='black'),
                  annotations=ann, shapes=shp, **AX)
fig.write_html('out.html')
